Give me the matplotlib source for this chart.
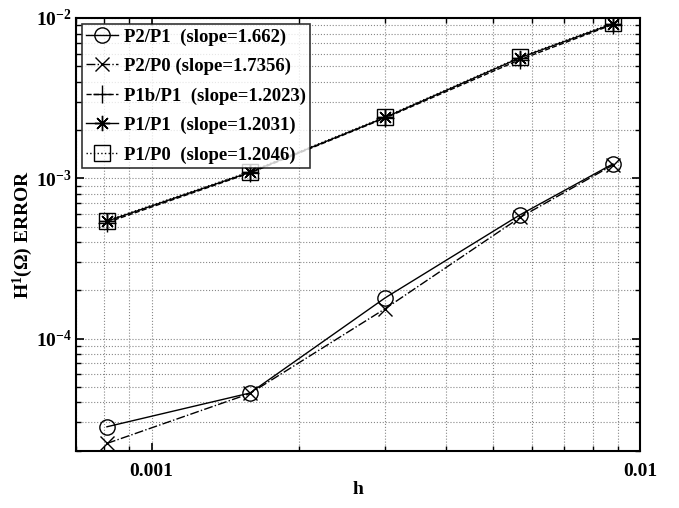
import numpy as np
import matplotlib
matplotlib.use('Agg')
import matplotlib.pyplot as plt
from matplotlib.ticker import LogLocator, FixedLocator, FixedFormatter, NullFormatter

# mesh sizes
h = [0.00081, 0.00159, 0.00301, 0.00568, 0.00880]

# H1 errors per element pair
err_p2p1 = [2.82e-5, 4.58e-5, 1.80e-4, 5.92e-4, 1.23e-3]
err_p2p0 = [2.22e-5, 4.55e-5, 1.54e-4, 5.70e-4, 1.21e-3]
err_p1bp1 = [5.30e-4, 1.08e-3, 2.38e-3, 5.50e-3, 9.10e-3]
err_p1p1 = [5.40e-4, 1.09e-3, 2.40e-3, 5.65e-3, 9.20e-3]
err_p1p0 = [5.45e-4, 1.10e-3, 2.42e-3, 5.70e-3, 9.30e-3]

labels = ['P2/P1  (slope=1.662)', 'P2/P0 (slope=1.7356)', 'P1b/P1  (slope=1.2023)',
          'P1/P1  (slope=1.2031)', 'P1/P0  (slope=1.2046)']

plt.rcParams['font.family'] = ['Liberation Serif', 'DejaVu Serif']
plt.rcParams['font.weight'] = 'bold'
plt.rcParams['mathtext.fontset'] = 'custom'
plt.rcParams['mathtext.rm'] = 'Liberation Serif:bold'
plt.rcParams['mathtext.bf'] = 'Liberation Serif:bold'
plt.rcParams['mathtext.it'] = 'Liberation Serif:bold'

fig = plt.figure(figsize=(6.79, 5.08), dpi=100)
ax = fig.add_axes([0.1119, 0.1128, 0.8307, 0.8518])

asterisk = (8, 2, 0)
ax.loglog(h, err_p2p1, '-o', color='k', lw=1.0, ms=11, mfc='none', mew=1.0, label=labels[0])
ax.loglog(h, err_p2p0, '-.x', color='k', lw=1.0, ms=10, mew=1.0, label=labels[1])
ax.loglog(h, err_p1bp1, '--+', color='k', lw=1.0, ms=13, mew=1.0, label=labels[2])
ax.loglog(h, err_p1p1, '-', marker=asterisk, color='k', lw=1.0, ms=11, mew=1.0, label=labels[3])
ax.loglog(h, err_p1p0, ':s', color='k', lw=1.0, ms=11, mfc='none', mew=1.0, label=labels[4])

ax.set_xlim(0.0007, 0.01)
ax.set_ylim(2e-5, 1e-2)

ax.xaxis.set_major_locator(FixedLocator([0.001, 0.01]))
ax.xaxis.set_major_formatter(FixedFormatter(['0.001', '0.01']))
ax.xaxis.set_minor_locator(LogLocator(base=10, subs=np.arange(2, 10)))
ax.xaxis.set_minor_formatter(NullFormatter())
ax.yaxis.set_major_locator(FixedLocator([1e-4, 1e-3, 1e-2]))
ax.yaxis.set_major_formatter(FixedFormatter([r'$10^{-4}$', r'$10^{-3}$', r'$10^{-2}$']))
ax.yaxis.set_minor_locator(LogLocator(base=10, subs=np.arange(2, 10)))
ax.yaxis.set_minor_formatter(NullFormatter())

ax.tick_params(which='both', direction='in', top=True, right=True, labelsize=14)
ax.tick_params(axis='x', which='major', pad=9)
ax.tick_params(axis='y', which='major', pad=3)
ax.tick_params(which='major', length=6, width=1.2)
ax.tick_params(which='minor', length=3.5, width=1.0)
for s in ax.spines.values():
    s.set_linewidth(1.5)

ax.grid(True, which='both', linestyle=':', color='#888888', linewidth=0.8)

ax.set_xlabel('h', fontsize=14, fontweight='bold')
ax.xaxis.set_label_coords(0.5, -0.09, transform=ax.transAxes)
ax.xaxis.label.set_va('center')
ax.set_ylabel(r'H$^{1}$($\Omega$) ERROR', fontsize=14, fontweight='bold')
ax.yaxis.set_label_coords(-0.095, 0.5, transform=ax.transAxes)
ax.yaxis.label.set_va('center')

leg = ax.legend(loc='upper left', fontsize=13.5, frameon=True, fancybox=False, edgecolor='k',
                handlelength=1.7, handletextpad=0.3, borderaxespad=0.3, labelspacing=0.65,
                borderpad=0.25)
leg.get_frame().set_linewidth(1.2)

fig.savefig('out.png', dpi=100)
